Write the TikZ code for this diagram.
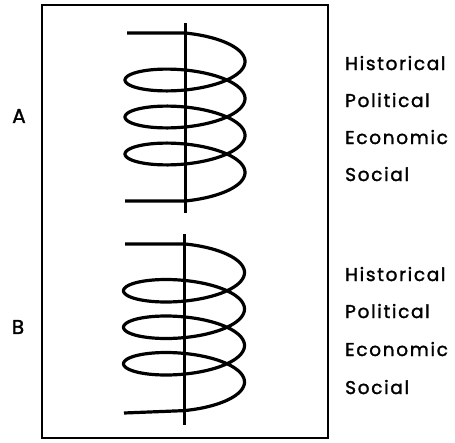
\documentclass[tikz,border=0pt]{standalone}
\usepackage{fontspec}
\setmainfont{Poppins}[LetterSpace=9]
\newfontfamily\lblfont{Poppins}[LetterSpace=9,FakeBold=1.6]
\begin{document}
\begin{tikzpicture}[x=1pt,y=-1pt,
  helix/.style={line width=3.2pt},
  axisline/.style={line width=3pt},
  frame/.style={line width=2.4pt},
  lbl/.style={anchor=base west,inner sep=0pt,font=\lblfont\fontsize{18.5}{18.5}\selectfont},
  side/.style={anchor=center,inner sep=0pt,font=\lblfont\fontsize{20}{20}\selectfont}]
\useasboundingbox (0,0) rectangle (455,442);
\draw[frame] (42,5) rectangle (328,438);
% helix A
\draw[axisline] (185,23) -- (185,213);
\draw[helix,line join=round] (127,33) -- (185,33)
  plot[domain=-90:1170,samples=320,smooth,variable=\t] ({185+60*cos(\t)},{61.5+\t/360*37+19.25*sin(\t)})
  -- (125,201);
% helix B
\draw[axisline] (184,234) -- (184,425);
\draw[helix,line join=round] (125,244) -- (184,244)
  plot[domain=-90:1170,samples=320,smooth,variable=\t] ({184+60.5*cos(\t)},{272.5+\t/360*36.5+19.5*sin(\t)})
  -- (124,413);
\node[side] (a) at (19,116) {A};
\node[side] (b) at (18,327) {B};
\node[lbl] (a1) at (345,70) {Historical};
\node[lbl] (a2) at (345,107) {Political};
\node[lbl] (a3) at (345,144) {Economic};
\node[lbl] (a4) at (345,181) {Social};
\node[lbl] (b1) at (345,281) {Historical};
\node[lbl] (b2) at (345,318) {Political};
\node[lbl] (b3) at (345,356) {Economic};
\node[lbl] (b4) at (345,394) {Social};
\end{tikzpicture}
\end{document}
